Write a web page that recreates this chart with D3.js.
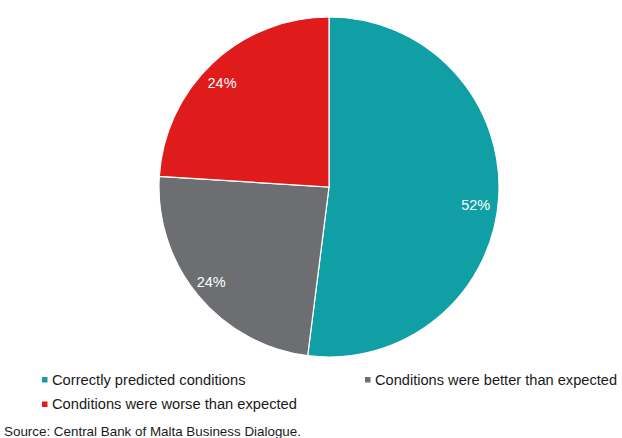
<!DOCTYPE html>
<html><head><meta charset="utf-8">
<script src="https://cdn.jsdelivr.net/npm/d3@7"></script>
<style>body{margin:0;background:#fff}svg{display:block}</style>
</head><body>
<svg id="c" width="622" height="438"></svg>
<script>
const categories = ["Correctly predicted conditions", "Conditions were better than expected", "Conditions were worse than expected"];
const values = [52, 24, 24];
const colors = ["#109FA5", "#6D6E71", "#E01B1B"];
const sourceText = "Source: Central Bank of Malta Business Dialogue.";

const svg = d3.select("#c");
const cx = 329, cy = 187, R = 170;
const data = categories.map((c, i) => ({c, v: values[i], col: colors[i]}));
const pie = d3.pie().value(d => d.v).sort(null);
const arcs = pie(data);
const arc = d3.arc().innerRadius(0).outerRadius(R);
const g = svg.append("g").attr("transform", `translate(${cx},${cy})`);
g.selectAll("path").data(arcs).join("path")
  .attr("d", arc).attr("fill", d => d.data.col)
  .attr("stroke", "#fff").attr("stroke-width", 1.2);

const labelArc = d3.arc().innerRadius(149).outerRadius(149);
const nudges = [[-2, 9], [-3, 0], [-5, 5]];
g.selectAll("text.lbl").data(arcs).join("text")
  .attr("class", "lbl")
  .attr("x", (d, i) => labelArc.centroid(d)[0] + nudges[i][0])
  .attr("y", (d, i) => labelArc.centroid(d)[1] + nudges[i][1])
  .attr("text-anchor", "middle").attr("dy", "0.35em")
  .attr("font-family", "Liberation Sans, Arial, sans-serif")
  .attr("font-size", 14.5).attr("fill", "#fff")
  .text(d => d.data.v + "%");

const legendPos = [[42, 379.5], [365, 379.5], [42, 404]];
const lg = svg.append("g").attr("font-family", "Liberation Sans, Arial, sans-serif").attr("font-size", 14.7).attr("fill", "#1a1a1a");
data.forEach((d, i) => {
  const [x, y] = legendPos[i];
  lg.append("rect").attr("x", x).attr("y", y - 2.5).attr("width", 5.5).attr("height", 5.5).attr("fill", d.col);
  const t = lg.append("text").attr("x", x + 10).attr("y", y).attr("dy", "0.35em").text(d.c);
  const maxW = 617 - (x + 10);
  if (t.node().getComputedTextLength() > maxW) t.attr("textLength", maxW).attr("lengthAdjust", "spacingAndGlyphs");
});
svg.append("text").attr("x", 4).attr("y", 436)
  .attr("font-family", "Liberation Sans, Arial, sans-serif").attr("font-size", 13.4).attr("fill", "#1a1a1a")
  .text(sourceText);
</script>
</body></html>
